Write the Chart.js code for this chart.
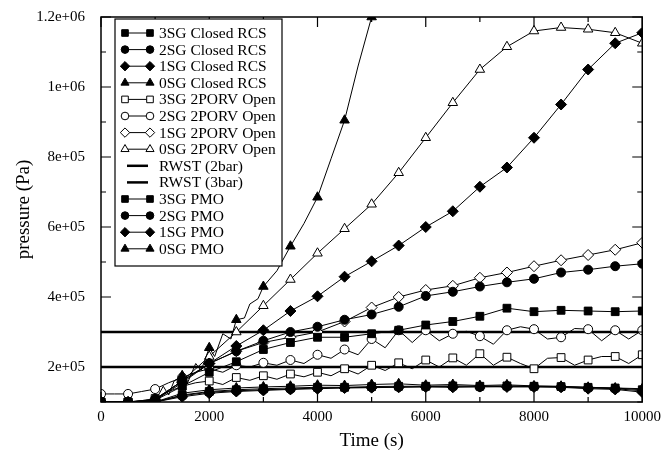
<!DOCTYPE html>
<html>
<head>
<meta charset="utf-8">
<script src="https://cdn.jsdelivr.net/npm/chart.js@4.4.1/dist/chart.umd.min.js"></script>
<style>
  html, body { margin: 0; padding: 0; background: #fff; }
  #wrap { width: 667px; height: 453px; }
</style>
</head>
<body>
<div id="wrap"><canvas id="pressureChart" width="667" height="453"></canvas></div>
<script>
// time axes (s)
const t500 = [0, 500, 1000, 1500, 2000, 2500, 3000, 3500, 4000, 4500, 5000,
  5500, 6000, 6500, 7000, 7500, 8000, 8500, 9000, 9500, 10000];
const t250 = [0, 250, 500, 750, 1000, 1250, 1500, 1750, 2000, 2250, 2500, 2750,
  3000, 3250, 3500, 3750, 4000, 4250, 4500, 4750, 5000, 5250, 5500, 5750, 6000,
  6250, 6500, 6750, 7000, 7250, 7500, 7750, 8000, 8250, 8500, 8750, 9000, 9250,
  9500, 9750, 10000];
const tSteep = [0, 250, 500, 750, 1000, 1150, 1250, 1350, 1500, 1600, 1750, 1850,
  2000, 2100, 2250, 2400, 2500, 2650, 2750, 2900, 3000, 3250, 3500, 3750, 4000,
  4250, 4500, 4750, 5000, 5250];

// pressure (Pa)
const closed3 = [1.0e5, 1.0e5, 1.05e5, 1.45e5, 1.85e5, 2.15e5, 2.5e5, 2.7e5, 2.85e5, 2.85e5, 2.95e5,
  3.05e5, 3.2e5, 3.3e5, 3.45e5, 3.68e5, 3.58e5, 3.62e5, 3.6e5, 3.58e5, 3.6e5];
const closed2 = [1.0e5, 1.0e5, 1.08e5, 1.6e5, 2.1e5, 2.45e5, 2.75e5, 3.0e5, 3.15e5, 3.35e5, 3.5e5,
  3.72e5, 4.03e5, 4.15e5, 4.3e5, 4.42e5, 4.52e5, 4.7e5, 4.78e5, 4.88e5, 4.95e5];
const closed1 = [1.0e5, 1.0e5, 1.05e5, 1.55e5, 2.1e5, 2.6e5, 3.05e5, 3.6e5, 4.02e5, 4.58e5, 5.02e5,
  5.47e5, 6.0e5, 6.45e5, 7.15e5, 7.7e5, 8.55e5, 9.5e5, 1.05e6, 1.125e6, 1.155e6];
const closed0 = [1.0e5, 1.0e5, 1.0e5, 1.0e5, 1.02e5, 1.45e5, 1.2e5, 1.6e5, 1.75e5, 1.55e5, 2.1e5, 1.9e5,
  2.55e5, 2.3e5, 2.95e5, 2.8e5, 3.35e5, 3.4e5, 3.8e5, 3.95e5, 4.3e5, 4.75e5, 5.45e5, 6.1e5, 6.85e5,
  7.95e5, 9.05e5, 1.06e6, 1.2e6, 1.35e6];
const open3 = [1.0e5, 1.0e5, 1.0e5, 1.02e5, 1.1e5, 1.3e5, 1.45e5, 1.55e5, 1.6e5, 1.5e5, 1.7e5, 1.62e5,
  1.75e5, 1.65e5, 1.8e5, 1.72e5, 1.85e5, 1.75e5, 1.95e5, 1.8e5, 2.05e5, 1.9e5, 2.12e5, 1.95e5, 2.2e5,
  2.0e5, 2.26e5, 2.05e5, 2.38e5, 2.05e5, 2.28e5, 2.1e5, 1.95e5, 2.25e5, 2.27e5, 2.05e5, 2.2e5, 2.3e5,
  2.3e5, 2.1e5, 2.35e5];
const open2 = [1.23e5, 1.23e5, 1.23e5, 1.3e5, 1.37e5, 1.55e5, 1.7e5, 1.85e5, 1.95e5, 1.85e5, 2.05e5, 2.0e5,
  2.12e5, 2.05e5, 2.2e5, 2.1e5, 2.35e5, 2.25e5, 2.5e5, 2.35e5, 2.8e5, 2.55e5, 3.05e5, 2.7e5, 3.05e5,
  2.75e5, 2.95e5, 3.02e5, 2.88e5, 2.65e5, 3.05e5, 3.15e5, 3.08e5, 2.8e5, 2.85e5, 3.1e5, 3.08e5, 2.75e5,
  3.05e5, 2.8e5, 3.05e5];
const open1 = [1.0e5, 1.0e5, 1.08e5, 1.6e5, 2.1e5, 2.45e5, 2.7e5, 2.85e5, 3.0e5, 3.3e5, 3.7e5,
  4.0e5, 4.2e5, 4.32e5, 4.55e5, 4.7e5, 4.88e5, 5.05e5, 5.2e5, 5.35e5, 5.55e5];
const open0 = [1.0e5, 1.0e5, 1.05e5, 1.6e5, 2.3e5, 3.0e5, 3.75e5, 4.5e5, 5.25e5, 5.95e5, 6.65e5,
  7.55e5, 8.55e5, 9.55e5, 1.05e6, 1.115e6, 1.16e6, 1.17e6, 1.165e6, 1.155e6, 1.125e6];
const rwstX = [0, 10000];
const rwst2 = [2.0e5, 2.0e5];
const rwst3 = [3.0e5, 3.0e5];
const pmo3 = [1.0e5, 1.0e5, 1.0e5, 1.2e5, 1.3e5, 1.35e5, 1.38e5, 1.4e5, 1.42e5, 1.42e5, 1.44e5,
  1.45e5, 1.45e5, 1.46e5, 1.45e5, 1.46e5, 1.45e5, 1.44e5, 1.42e5, 1.4e5, 1.35e5];
const pmo2 = [1.0e5, 1.0e5, 1.0e5, 1.18e5, 1.28e5, 1.32e5, 1.35e5, 1.37e5, 1.4e5, 1.41e5, 1.42e5,
  1.43e5, 1.44e5, 1.44e5, 1.43e5, 1.45e5, 1.44e5, 1.43e5, 1.4e5, 1.38e5, 1.32e5];
const pmo1 = [1.0e5, 1.0e5, 1.0e5, 1.15e5, 1.25e5, 1.3e5, 1.33e5, 1.36e5, 1.38e5, 1.4e5, 1.41e5,
  1.42e5, 1.43e5, 1.42e5, 1.44e5, 1.43e5, 1.43e5, 1.42e5, 1.38e5, 1.36e5, 1.28e5];
const pmo0 = [1.0e5, 1.0e5, 1.0e5, 1.25e5, 1.35e5, 1.4e5, 1.43e5, 1.45e5, 1.48e5, 1.47e5, 1.5e5,
  1.52e5, 1.48e5, 1.5e5, 1.47e5, 1.49e5, 1.46e5, 1.45e5, 1.42e5, 1.4e5, 1.38e5];

const xTicks = [0, 2000, 4000, 6000, 8000, 10000];

function pts(times, vals) {
  return vals.map((v, i) => ({ x: times[i], y: v }));
}

// marker only every 500 s, like the original plot
const markEvery = (r) => (ctx) => (ctx.raw && ctx.raw.x % 500 === 0 ? r : 0);

function series(label, times, vals, shape, filled) {
  const r = shape === 'circle' ? 4.5 : 5.5;
  return {
    label: label,
    data: pts(times, vals),
    borderColor: '#000',
    borderWidth: 1,
    backgroundColor: filled ? '#000' : '#fff',
    pointStyle: shape,
    pointRadius: markEvery(r),
    pointBorderWidth: 1,
    pointBorderColor: '#000',
    pointBackgroundColor: filled ? '#000' : '#fff',
    tension: 0,
    _shape: shape,
    _r: r,
  };
}

function flat(label, vals) {
  return {
    label: label,
    data: pts(rwstX, vals),
    borderColor: '#000',
    borderWidth: 2.5,
    pointRadius: 0,
    _shape: null,
  };
}

const datasets = [
  series('3SG Closed RCS', t500, closed3, 'rect', true),
  series('2SG Closed RCS', t500, closed2, 'circle', true),
  series('1SG Closed RCS', t500, closed1, 'rectRot', true),
  series('0SG Closed RCS', tSteep, closed0, 'triangle', true),
  series('3SG 2PORV Open', t250, open3, 'rect', false),
  series('2SG 2PORV Open', t250, open2, 'circle', false),
  series('1SG 2PORV Open', t500, open1, 'rectRot', false),
  series('0SG 2PORV Open', t500, open0, 'triangle', false),
  flat('RWST (2bar)', rwst2),
  flat('RWST (3bar)', rwst3),
  series('3SG PMO', t500, pmo3, 'rect', true),
  series('2SG PMO', t500, pmo2, 'circle', true),
  series('1SG PMO', t500, pmo1, 'rectRot', true),
  series('0SG PMO', t500, pmo0, 'triangle', true),
];

// frame with inward ticks on all four sides
const frame = {
  id: 'frame',
  afterDatasetsDraw(chart) {
    const { ctx, chartArea: a, scales } = chart;
    ctx.save();
    ctx.strokeStyle = '#000';
    ctx.lineWidth = 1.5;
    ctx.strokeRect(a.left, a.top, a.right - a.left, a.bottom - a.top);
    ctx.lineWidth = 1.2;
    ctx.beginPath();
    for (let t = 0; t <= 10000; t += 1000) {
      const x = scales.x.getPixelForValue(t);
      const len = t % 2000 === 0 ? 10 : 5;
      ctx.moveTo(x, a.bottom); ctx.lineTo(x, a.bottom - len);
      ctx.moveTo(x, a.top); ctx.lineTo(x, a.top + len);
    }
    for (let p = 1e5; p <= 1.2e6; p += 1e5) {
      const y = scales.y.getPixelForValue(p);
      const len = p % 2e5 === 0 ? 10 : 5;
      ctx.moveTo(a.left, y); ctx.lineTo(a.left + len, y);
      ctx.moveTo(a.right, y); ctx.lineTo(a.right - len, y);
    }
    ctx.stroke();
    ctx.restore();
  }
};

// boxed legend in the upper left of the plot
const boxLegend = {
  id: 'boxLegend',
  afterDraw(chart) {
    const ctx = chart.ctx;
    const bx = 115, by = 19, bw = 167, bh = 247, row = 16.6;
    ctx.save();
    ctx.fillStyle = '#fff';
    ctx.fillRect(bx, by, bw, bh);
    ctx.strokeStyle = '#000';
    ctx.lineWidth = 1.2;
    ctx.strokeRect(bx, by, bw, bh);
    ctx.font = '15.5px "Liberation Serif", "Times New Roman", serif';
    ctx.textBaseline = 'middle';
    chart.data.datasets.forEach((ds, i) => {
      const y = by + 14 + i * row;
      const x1 = 125, x2 = 150;
      ctx.strokeStyle = '#000';
      ctx.lineWidth = ds._shape ? 1 : 2.5;
      ctx.beginPath();
      ctx.moveTo(ds._shape ? x1 : x1 + 2, y);
      ctx.lineTo(ds._shape ? x2 : x2 - 2, y);
      ctx.stroke();
      if (ds._shape) {
        ctx.fillStyle = ds.pointBackgroundColor;
        ctx.lineWidth = 1;
        const opt = { pointStyle: ds._shape, radius: ds._r * 0.85, rotation: 0, borderWidth: 1 };
        Chart.helpers.drawPoint(ctx, opt, x1, y);
        Chart.helpers.drawPoint(ctx, opt, x2, y);
      }
      ctx.fillStyle = '#000';
      ctx.fillText(ds.label, 159, y + 1);
    });
    ctx.restore();
  }
};

function sci(v) {
  const [m, e] = v.toExponential().split('e');
  const n = Math.abs(parseInt(e, 10));
  return m + 'e' + (e[0] === '-' ? '-' : '+') + (n < 10 ? '0' + n : n);
}

const serif = '"Liberation Serif", "Times New Roman", serif';

new Chart(document.getElementById('pressureChart'), {
  type: 'line',
  data: { datasets: datasets },
  options: {
    responsive: false,
    animation: false,
    layout: { padding: { left: 0, right: 16, top: 15, bottom: 0 } },
    plugins: {
      legend: { display: false },
      tooltip: { enabled: false },
    },
    scales: {
      x: {
        type: 'linear',
        min: 0,
        max: 10000,
        grid: { display: false, drawTicks: false },
        border: { display: false },
        afterBuildTicks: (scale) => { scale.ticks = xTicks.map((v) => ({ value: v })); },
        afterFit: (scale) => { scale.height = 51; },
        ticks: {
          color: '#000',
          padding: 6,
          maxRotation: 0,
          font: { family: serif, size: 15 },
          callback: (v) => String(v),
        },
        title: {
          display: true,
          text: 'Time (s)',
          color: '#000',
          font: { family: serif, size: 19 },
          padding: { top: 0, bottom: 1 },
        },
      },
      y: {
        type: 'linear',
        min: 1e5,
        max: 1.2e6,
        grid: { display: false },
        border: { display: false },
        afterFit: (scale) => { scale.width = 101; },
        ticks: {
          stepSize: 1e5,
          color: '#000',
          padding: 8,
          font: { family: serif, size: 15 },
          callback: (v) => (v % 2e5 === 0 ? sci(v) : ''),
        },
        title: {
          display: true,
          text: 'pressure (Pa)',
          color: '#000',
          font: { family: serif, size: 19 },
          padding: { top: 13, bottom: 0 },
        },
      },
    },
  },
  plugins: [frame, boxLegend],
});
</script>
</body>
</html>
